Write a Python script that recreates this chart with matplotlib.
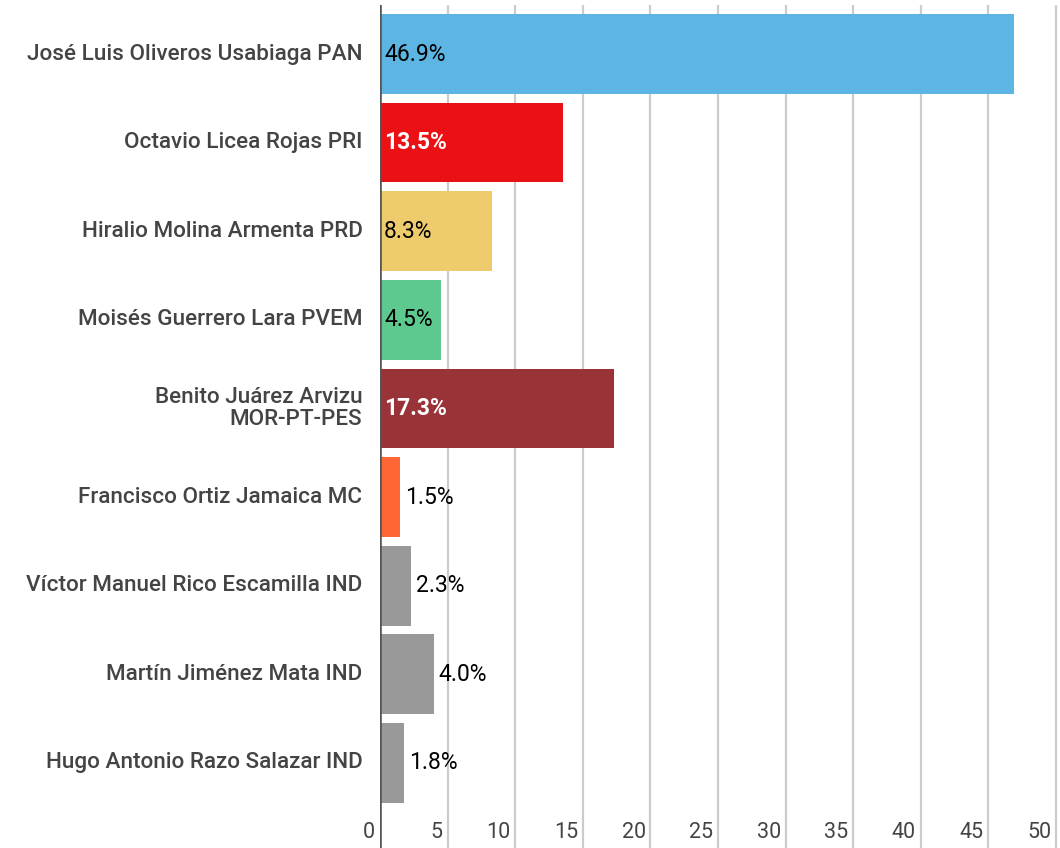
import matplotlib
matplotlib.use("Agg")
from matplotlib import pyplot as plt
import matplotlib.transforms as mtransforms

plt.rcParams['font.family'] = ['Roboto', 'DejaVu Sans']

candidates = ["José Luis Oliveros Usabiaga PAN", "Octavio Licea Rojas PRI",
              "Hiralio Molina Armenta PRD", "Moisés Guerrero Lara PVEM",
              "Benito Juárez Arvizu\nMOR-PT-PES", "Francisco Ortiz Jamaica MC",
              "Víctor Manuel Rico Escamilla IND", "Martín Jiménez Mata IND",
              "Hugo Antonio Razo Salazar IND"]
votes = [46.9, 13.5, 8.3, 4.5, 17.3, 1.5, 2.3, 4.0, 1.8]
colors = ['#5db5e3', '#ea1014', '#eecb6c', '#5dc98e', '#9a3337',
          '#ff6633', '#999999', '#999999', '#999999']
label_colors = ['black', 'white', 'black', 'black', 'white',
                'black', 'black', 'black', 'black']
inside = [True, True, True, True, True, False, False, False, False]
ticks = [0, 5, 10, 15, 20, 25, 30, 35, 40, 45, 50]

fig = plt.figure(figsize=(10.6, 8.48), dpi=100)
ax = fig.add_axes([380 / 1060, 0, 1 - 380 / 1060, 843 / 848])

ax.set_xlim(0, 50.3)
ax.set_ylim(8.96, -0.553)

for x in ticks[1:]:
    ax.axvline(x, color='#cccccc', lw=1.6, zorder=0)

y = range(len(candidates))
ax.barh(y, votes, height=0.9, color=colors, zorder=2)

for i, v in enumerate(votes):
    bold = label_colors[i] == 'white'
    if inside[i]:
        ax.text(0.3, i, f"{v:.1f}%", ha='left', va='center', fontsize=16.5,
                color=label_colors[i], fontweight='bold' if bold else 'normal',
                zorder=3)
    else:
        ax.text(v + 0.35, i, f"{v:.1f}%", ha='left', va='center', fontsize=16.5,
                color=label_colors[i], zorder=3)

ax.axvline(0, color='#555555', lw=2.6, zorder=4)

for s in ax.spines.values():
    s.set_visible(False)
ax.set_xticks([])
ax.set_yticks([])

trans = mtransforms.blended_transform_factory(ax.transData, ax.transAxes)
for t in ticks:
    ax.text(t - 0.35, 0.018, str(t), transform=trans, ha='right', va='center',
            fontsize=15.5, color='#444444')

for i, name in enumerate(candidates):
    ax.text(-1.3, i, name, ha='right', va='center', fontsize=16.2,
            fontweight='medium', color='#444444', linespacing=1.1,
            clip_on=False)

fig.savefig("out.png", dpi=100)
